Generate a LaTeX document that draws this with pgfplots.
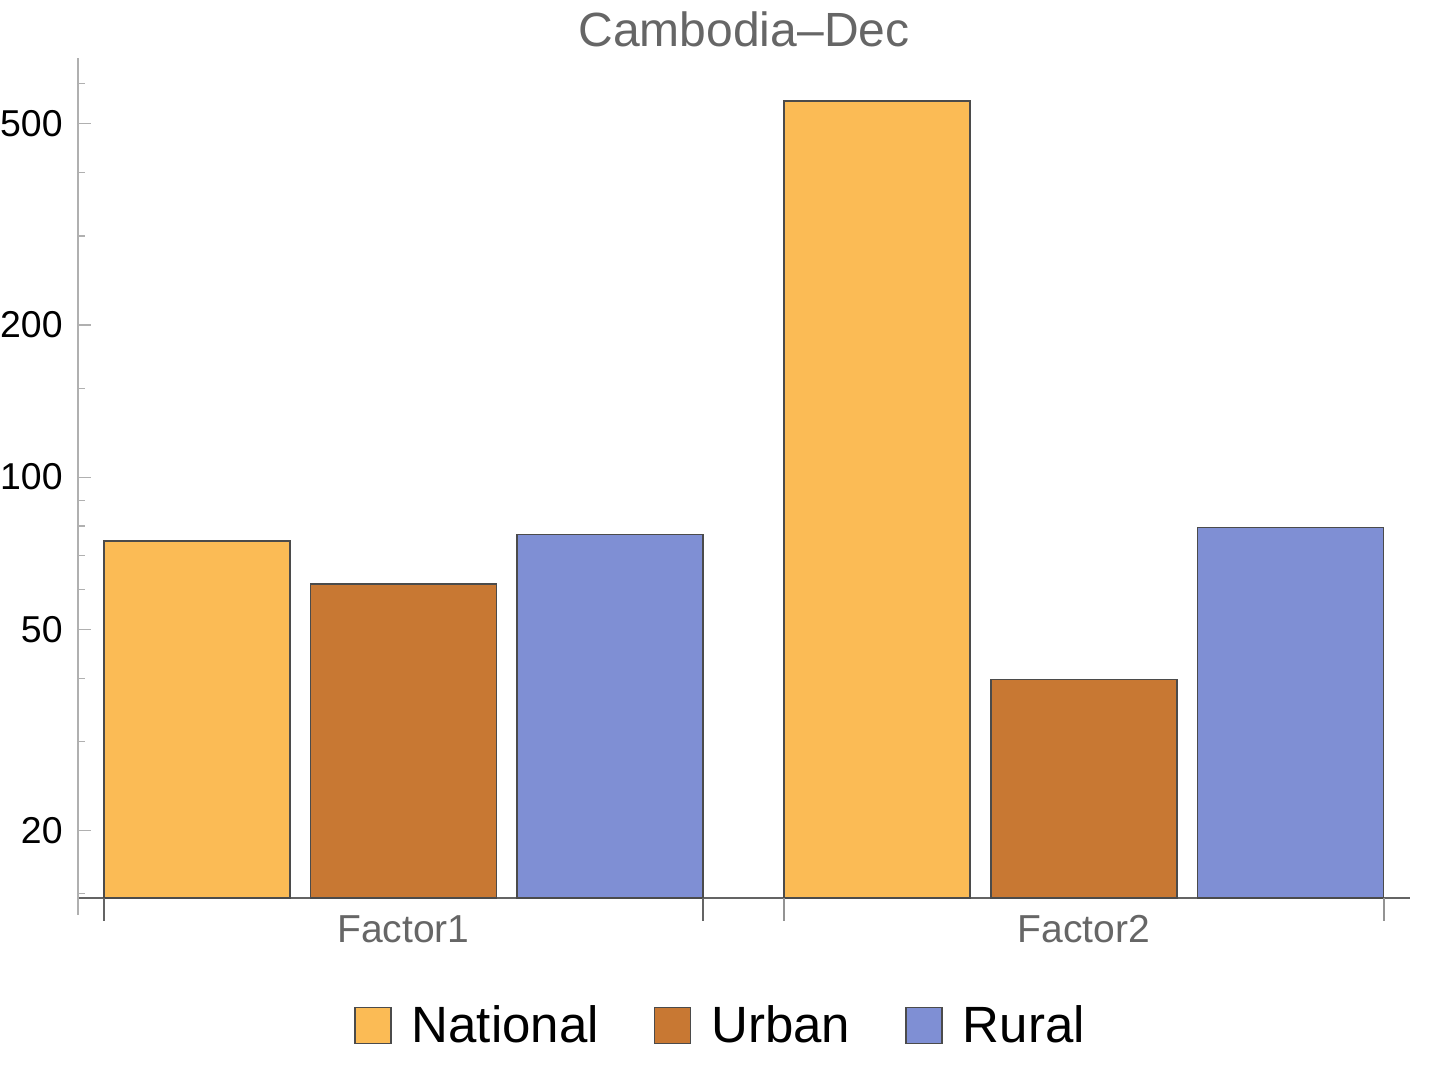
\documentclass[border=0pt]{standalone}
\usepackage{fontspec}
\setmainfont{Liberation Sans}
\usepackage{pgfplots}
\pgfplotsset{compat=1.18}
\definecolor{natc}{RGB}{251,187,85}
\definecolor{urbc}{RGB}{200,120,51}
\definecolor{rurc}{RGB}{127,143,212}
\definecolor{edgec}{RGB}{75,75,75}
\definecolor{yaxc}{RGB}{176,176,176}
\definecolor{xaxc}{RGB}{100,100,100}
\definecolor{txtgray}{RGB}{102,102,102}
\begin{document}
\begin{tikzpicture}
\useasboundingbox (-39pt,-91pt) rectangle (681pt,449pt);
\begin{axis}[
  at={(0,0)}, anchor=south west,
  scale only axis, width=666pt, height=420pt,
  xmin=78, xmax=1410,
  ymode=log, ymin=14.7, ymax=675,
  log origin=infty,
  axis x line=bottom, axis y line=left,
  axis line style={-},
  x axis line style={draw=xaxc, line width=0.6pt},
  y axis line style={draw=yaxc, line width=0.8pt},
  /pgf/number format/assume math mode=true,
  ytick={20,50,100,200,500},
  yticklabels={20,50,100,200,500},
  minor ytick={15,30,40,60,70,80,90,150,300,400,600},
  tick align=inside,
  major tick length=6.5pt,
  minor tick length=3.5pt,
  y tick style={draw=yaxc, line width=0.6pt},
  yticklabel style={font=\fontsize{18.7pt}{20pt}\selectfont, text=black, inner sep=0pt, xshift=-7.5pt},
  xtick={403.5,1084},
  xticklabels={Factor1,Factor2},
  x tick style={draw=none},
  xticklabel style={font=\fontsize{19.5pt}{21pt}\selectfont, text=txtgray, inner sep=0pt, anchor=north, yshift=-8.5pt},
  title={Cambodia–Dec},
  title style={font=\fontsize{24pt}{26pt}\selectfont, text=txtgray, at={(0.5,1)}, anchor=base, inner sep=0pt, yshift=-0.5pt},
  legend columns=3,
  legend style={at={(0.4816,-0.152)}, anchor=center, draw=none, fill=none,
    font=\fontsize{25.5pt}{27pt}\selectfont,
    nodes={inner sep=0pt},
    column sep=10pt,
    /tikz/every even column/.append style={column sep=27.5pt}},
  legend image code/.code={\draw[#1, draw=edgec, line width=0.8pt] (0pt,-9pt) rectangle (18pt,9pt);},
  clip=false,
  after end axis/.code={
    \draw[xaxc, line width=0.6pt] (axis cs:104,14.7) -- ++(0,-11.5pt);
    \draw[xaxc, line width=0.6pt] (axis cs:703,14.7) -- ++(0,-11.5pt);
    \draw[xaxc!70, line width=0.6pt] (axis cs:784,14.7) -- ++(0,-11.5pt);
    \draw[xaxc!70, line width=0.6pt] (axis cs:1384,14.7) -- ++(0,-11.5pt);
    \draw[yaxc, line width=0.8pt] (rel axis cs:0,0) -- ++(0,-8.5pt);
  },
]
\addplot[ybar, bar width=186, bar shift=0pt, fill=natc, draw=edgec, line width=0.7pt] coordinates {(197,74.7) (877,555)};
\addlegendentry{National}
\addplot[ybar, bar width=186, bar shift=0pt, fill=urbc, draw=edgec, line width=0.7pt] coordinates {(403.5,61.4) (1084,39.8)};
\addlegendentry{Urban}
\addplot[ybar, bar width=186, bar shift=0pt, fill=rurc, draw=edgec, line width=0.7pt] coordinates {(610,77.1) (1290.5,79.6)};
\addlegendentry{Rural}
\end{axis}
\end{tikzpicture}
\end{document}
